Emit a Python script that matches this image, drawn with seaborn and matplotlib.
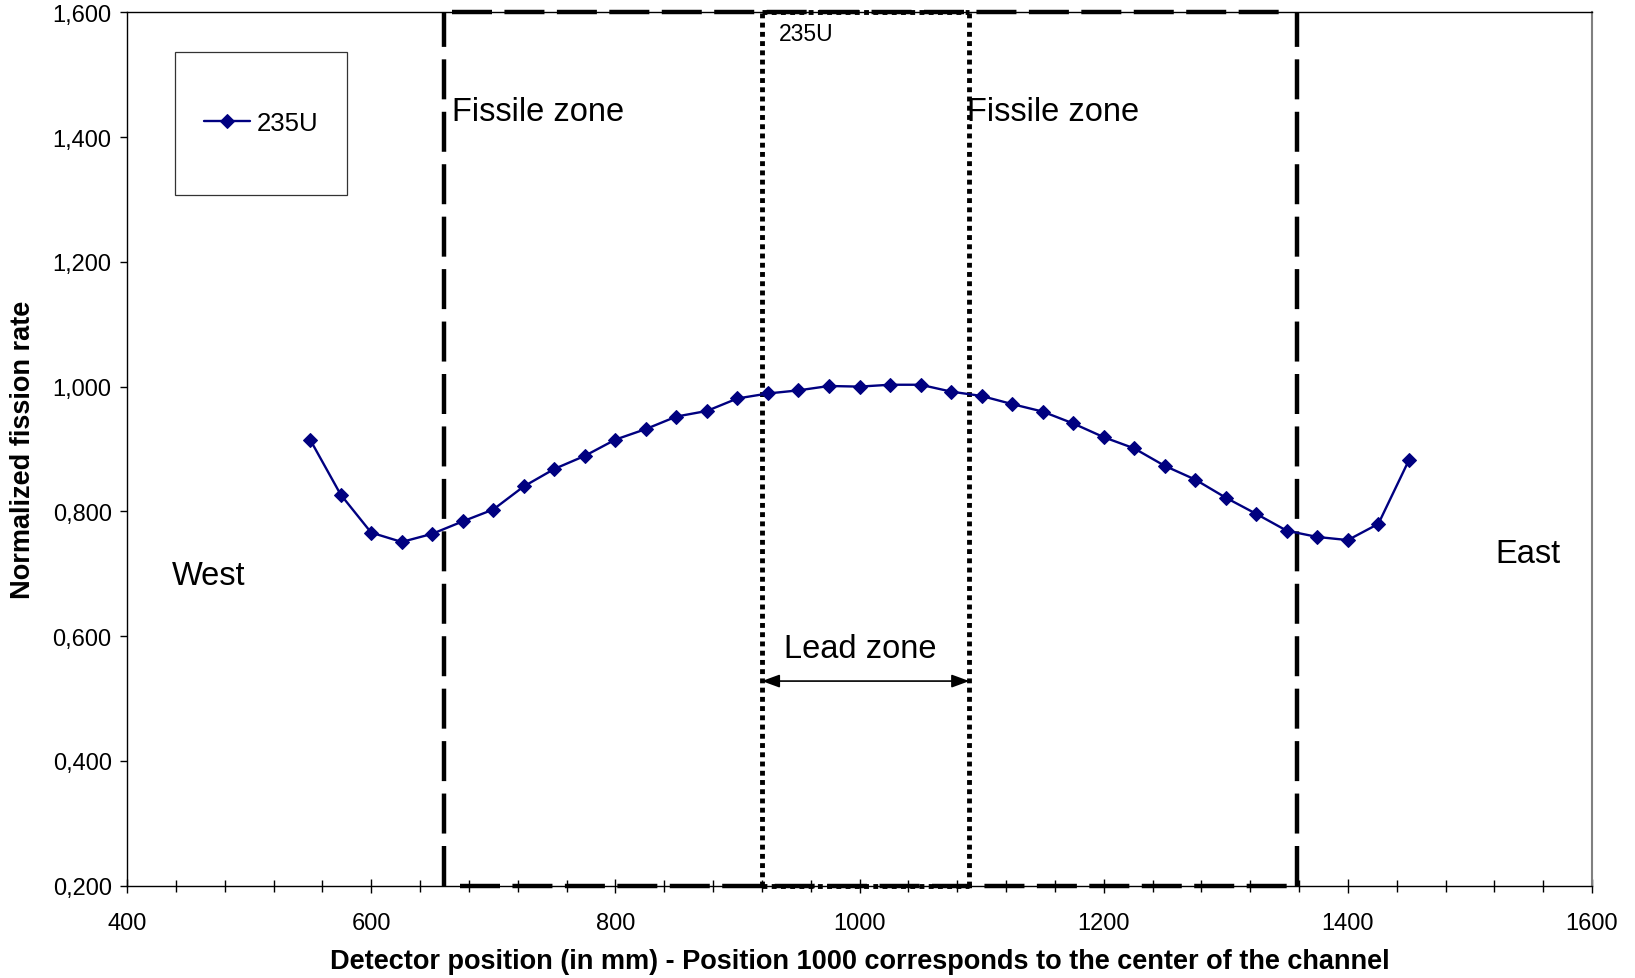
import numpy as np
import pandas as pd
import seaborn as sns
import matplotlib.pyplot as plt
from matplotlib.patches import Rectangle
from matplotlib.ticker import MultipleLocator, FuncFormatter

# detector positions (mm) and normalized 235U fission rate
positions = [550, 575, 600, 625, 650, 675, 700, 725, 750, 775, 800, 825, 850,
             875, 900, 925, 950, 975, 1000, 1025, 1050, 1075, 1100, 1125, 1150,
             1175, 1200, 1225, 1250, 1275, 1300, 1325, 1350, 1375, 1400, 1425, 1450]
fission_rate = [0.915, 0.827, 0.766, 0.751, 0.764, 0.784, 0.803, 0.840, 0.868,
                0.889, 0.915, 0.932, 0.952, 0.961, 0.981, 0.989, 0.994, 1.001,
                1.000, 1.003, 1.003, 0.992, 0.985, 0.972, 0.960, 0.941, 0.919,
                0.901, 0.873, 0.851, 0.822, 0.796, 0.769, 0.759, 0.754, 0.780, 0.882]

# zone limits (mm)
fissile_limits = [660, 1358]
lead_limits = [920, 1090]

df = pd.DataFrame({"pos": positions, "rate": fission_rate})

sns.set_style("white")
plt.rcParams['font.family'] = ['Liberation Sans', 'DejaVu Sans']
plt.rcParams.update({'text.color': 'black', 'axes.labelcolor': 'black',
                     'xtick.color': 'black', 'ytick.color': 'black'})

fig = plt.figure(figsize=(16.35, 9.79), dpi=100)
ax = fig.add_axes([127 / 1635, 1 - 886.7 / 979, 1465 / 1635, 873.4 / 979])

sns.lineplot(data=df, x="pos", y="rate", ax=ax, color="#000080", lw=1.7,
             marker="D", markersize=7.4, markeredgecolor="#000080",
             label="235U", zorder=5)

ax.set_xlim(400, 1600)
ax.set_ylim(0.2, 1.6)
ax.xaxis.set_major_locator(MultipleLocator(200))
ax.xaxis.set_minor_locator(MultipleLocator(40))
ax.yaxis.set_major_locator(MultipleLocator(0.2))
ax.yaxis.set_major_formatter(FuncFormatter(lambda v, p: f"{v:.3f}".replace('.', ',')))
ax.tick_params(axis='x', which='major', direction='inout', length=10, width=1,
               labelsize=17, pad=14, bottom=True)
ax.tick_params(axis='x', which='minor', direction='inout', length=8, width=1, bottom=True)
ax.tick_params(axis='y', which='major', direction='out', length=5, width=1,
               labelsize=17, pad=6, left=True)

for side in ['left', 'bottom', 'top']:
    ax.spines[side].set_color('black')
    ax.spines[side].set_linewidth(1)
ax.spines['right'].set_color('#808080')
ax.spines['right'].set_linewidth(1.5)

ax.set_xlabel("Detector position (in mm) - Position 1000 corresponds to the center of the channel",
              fontsize=19.5, fontweight='bold')
ax.set_ylabel("Normalized fission rate", fontsize=19.5, fontweight='bold')
ax.xaxis.label.set_va('center')
ax.xaxis.set_label_coords(0.5, -0.0862)
ax.yaxis.label.set_va('center')
ax.yaxis.set_label_coords(-0.071, 0.5)

# fissile zone (dashed) and lead zone (dotted) frames
dash_kw = dict(color='black', lw=3.2, dashes=(9.0, 2.8), clip_on=False, zorder=3)
dot_kw = dict(color='black', lw=3.5, dashes=(1.0, 0.9), clip_on=False, zorder=4)
for xv in fissile_limits:
    ax.plot([xv, xv], [0.2, 1.6], **dash_kw)
ax.plot([fissile_limits[0] + 6, fissile_limits[1] - 5], [1.6, 1.6], **dash_kw)
ax.plot([fissile_limits[0] + 13, fissile_limits[1] - 6], [0.2, 0.2], **dash_kw)
for xv in lead_limits:
    ax.plot([xv, xv], [0.2, 1.6], **dot_kw)
ax.plot(lead_limits, [1.6, 1.6], **dot_kw)
ax.plot(lead_limits, [0.2, 0.2], **dot_kw)

ax.annotate('', xy=(lead_limits[0], 0.528), xytext=(lead_limits[1], 0.528),
            arrowprops=dict(arrowstyle='<|-|>,head_length=0.6,head_width=0.22',
                            color='black', lw=1.2, mutation_scale=18,
                            shrinkA=0, shrinkB=0))

ax.text(666.6, 1.441, "Fissile zone", fontsize=23.5, va='center', ha='left')
ax.text(1088, 1.441, "Fissile zone", fontsize=23.5, va='center', ha='left')
ax.text(934, 1.566, "235U", fontsize=16.5, va='center', ha='left')
ax.text(437, 0.698, "West", fontsize=23.5, va='center', ha='left')
ax.text(1521, 0.732, "East", fontsize=23.5, va='center', ha='left')
ax.text(1000.6, 0.581, "Lead zone", fontsize=23.5, va='center', ha='center')

# legend box
ax.add_patch(Rectangle((0.0328, 0.791), 0.1172, 0.164, transform=ax.transAxes,
                       fill=False, edgecolor='#333333', lw=0.9, zorder=6))
ax.legend(loc='center', bbox_to_anchor=(0.0914, 0.873), frameon=False, fontsize=18.5,
          handlelength=1.8, handletextpad=0.25, borderpad=0)

fig.savefig("out.png", dpi=100)
